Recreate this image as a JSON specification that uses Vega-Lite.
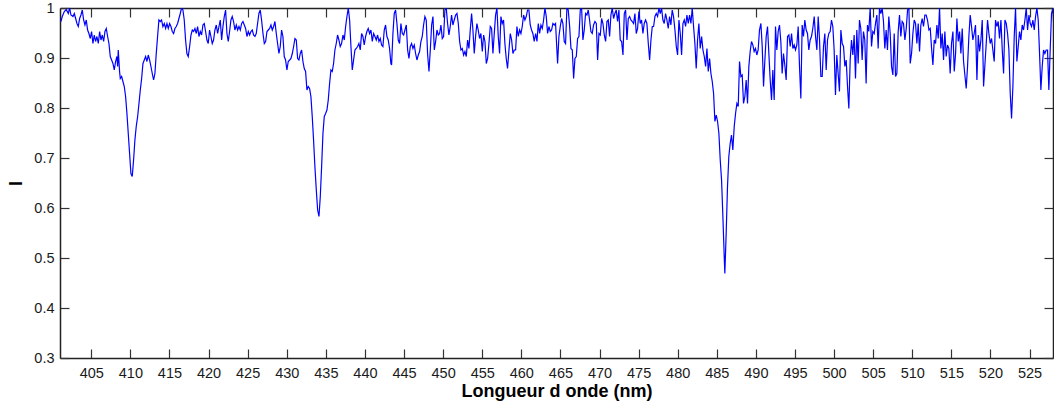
{
"$schema": "https://vega.github.io/schema/vega-lite/v6.json",
"width": 993, "height": 350,
"autosize": {"type": "none"},
"padding": {"left": 60, "top": 8, "right": 1, "bottom": 47},
"background": "white",
"config": {"view": {"stroke": null}, "font": "Liberation Sans"},
"data": {"values": [
{"nm":401.12,"I":0.973},{"nm":401.29,"I":0.983},{"nm":401.55,"I":0.993},{"nm":401.80,"I":0.997},{"nm":402.06,"I":0.989},{"nm":402.23,"I":1.000},{"nm":402.40,"I":0.986},{"nm":402.66,"I":0.983},{"nm":402.83,"I":0.989},{"nm":403.00,"I":0.979},{"nm":403.17,"I":0.969},{"nm":403.34,"I":0.963},{"nm":403.51,"I":0.979},{"nm":403.68,"I":0.986},{"nm":403.85,"I":0.996},{"nm":404.02,"I":0.976},{"nm":404.19,"I":0.966},{"nm":404.36,"I":0.976},{"nm":404.53,"I":0.956},{"nm":404.70,"I":0.949},{"nm":404.87,"I":0.939},{"nm":405.04,"I":0.953},{"nm":405.21,"I":0.929},{"nm":405.38,"I":0.946},{"nm":405.55,"I":0.933},{"nm":405.72,"I":0.943},{"nm":405.90,"I":0.929},{"nm":406.07,"I":0.953},{"nm":406.24,"I":0.936},{"nm":406.41,"I":0.946},{"nm":406.58,"I":0.933},{"nm":406.75,"I":0.953},{"nm":406.92,"I":0.959},{"nm":407.09,"I":0.943},{"nm":407.26,"I":0.929},{"nm":407.43,"I":0.903},{"nm":407.60,"I":0.896},{"nm":407.77,"I":0.889},{"nm":407.94,"I":0.876},{"nm":408.11,"I":0.893},{"nm":408.28,"I":0.903},{"nm":408.37,"I":0.883},{"nm":408.45,"I":0.916},{"nm":408.62,"I":0.873},{"nm":408.71,"I":0.859},{"nm":408.88,"I":0.863},{"nm":409.05,"I":0.853},{"nm":409.22,"I":0.843},{"nm":409.39,"I":0.823},{"nm":409.56,"I":0.789},{"nm":409.73,"I":0.749},{"nm":409.90,"I":0.709},{"nm":410.07,"I":0.669},{"nm":410.24,"I":0.663},{"nm":410.41,"I":0.696},{"nm":410.58,"I":0.736},{"nm":410.75,"I":0.763},{"nm":410.93,"I":0.783},{"nm":411.10,"I":0.809},{"nm":411.27,"I":0.836},{"nm":411.44,"I":0.859},{"nm":411.61,"I":0.889},{"nm":411.78,"I":0.896},{"nm":411.95,"I":0.903},{"nm":412.12,"I":0.893},{"nm":412.29,"I":0.906},{"nm":412.46,"I":0.896},{"nm":412.63,"I":0.883},{"nm":412.80,"I":0.869},{"nm":412.97,"I":0.856},{"nm":413.14,"I":0.869},{"nm":413.31,"I":0.909},{"nm":413.48,"I":0.943},{"nm":413.65,"I":0.976},{"nm":413.82,"I":0.973},{"nm":413.99,"I":0.976},{"nm":414.16,"I":0.963},{"nm":414.34,"I":0.969},{"nm":414.51,"I":0.959},{"nm":414.68,"I":0.969},{"nm":414.85,"I":0.959},{"nm":415.02,"I":0.969},{"nm":415.19,"I":0.963},{"nm":415.36,"I":0.953},{"nm":415.53,"I":0.949},{"nm":415.70,"I":0.959},{"nm":415.87,"I":0.963},{"nm":416.04,"I":0.969},{"nm":416.21,"I":0.979},{"nm":416.38,"I":0.989},{"nm":416.55,"I":1.000},{"nm":416.72,"I":0.996},{"nm":416.89,"I":0.976},{"nm":417.06,"I":0.936},{"nm":417.23,"I":0.909},{"nm":417.40,"I":0.903},{"nm":417.58,"I":0.923},{"nm":417.75,"I":0.946},{"nm":417.92,"I":0.956},{"nm":418.09,"I":0.953},{"nm":418.26,"I":0.959},{"nm":418.43,"I":0.949},{"nm":418.60,"I":0.963},{"nm":418.77,"I":0.943},{"nm":418.94,"I":0.953},{"nm":419.11,"I":0.946},{"nm":419.28,"I":0.966},{"nm":419.45,"I":0.969},{"nm":419.62,"I":0.953},{"nm":419.79,"I":0.936},{"nm":419.96,"I":0.929},{"nm":420.13,"I":0.956},{"nm":420.30,"I":0.943},{"nm":420.47,"I":0.929},{"nm":420.64,"I":0.936},{"nm":420.81,"I":0.956},{"nm":420.99,"I":0.966},{"nm":421.16,"I":0.949},{"nm":421.33,"I":0.963},{"nm":421.50,"I":0.976},{"nm":421.67,"I":0.936},{"nm":421.84,"I":0.963},{"nm":422.01,"I":0.983},{"nm":422.18,"I":0.996},
{"nm":422.35,"I":0.949},{"nm":422.52,"I":0.933},{"nm":422.69,"I":0.953},{"nm":422.86,"I":0.976},{"nm":423.03,"I":0.983},{"nm":423.20,"I":0.973},{"nm":423.37,"I":0.956},{"nm":423.55,"I":0.966},{"nm":423.72,"I":0.956},{"nm":423.89,"I":0.963},{"nm":424.06,"I":0.956},{"nm":424.23,"I":0.969},{"nm":424.40,"I":0.973},{"nm":424.57,"I":0.966},{"nm":424.74,"I":0.959},{"nm":424.91,"I":0.943},{"nm":425.08,"I":0.953},{"nm":425.25,"I":0.946},{"nm":425.42,"I":0.953},{"nm":425.59,"I":0.956},{"nm":425.76,"I":0.946},{"nm":425.93,"I":0.943},{"nm":426.10,"I":0.949},{"nm":426.27,"I":0.969},{"nm":426.44,"I":0.989},{"nm":426.61,"I":0.996},{"nm":426.78,"I":0.976},{"nm":426.96,"I":0.949},{"nm":427.13,"I":0.929},{"nm":427.30,"I":0.933},{"nm":427.47,"I":0.953},{"nm":427.64,"I":0.956},{"nm":427.81,"I":0.959},{"nm":427.98,"I":0.966},{"nm":428.15,"I":0.956},{"nm":428.32,"I":0.963},{"nm":428.49,"I":0.973},{"nm":428.66,"I":0.949},{"nm":428.83,"I":0.929},{"nm":429.00,"I":0.909},{"nm":429.17,"I":0.923},{"nm":429.34,"I":0.956},{"nm":429.51,"I":0.943},{"nm":429.68,"I":0.903},{"nm":429.85,"I":0.896},{"nm":430.02,"I":0.876},{"nm":430.19,"I":0.893},{"nm":430.37,"I":0.896},{"nm":430.54,"I":0.899},{"nm":430.71,"I":0.909},{"nm":430.88,"I":0.923},{"nm":431.05,"I":0.939},{"nm":431.22,"I":0.936},{"nm":431.39,"I":0.899},{"nm":431.56,"I":0.896},{"nm":431.73,"I":0.909},{"nm":431.90,"I":0.916},{"nm":432.07,"I":0.893},{"nm":432.24,"I":0.879},{"nm":432.41,"I":0.873},{"nm":432.58,"I":0.836},{"nm":432.75,"I":0.843},{"nm":432.92,"I":0.839},{"nm":433.09,"I":0.823},{"nm":433.26,"I":0.783},{"nm":433.43,"I":0.736},{"nm":433.60,"I":0.683},{"nm":433.78,"I":0.636},{"nm":433.95,"I":0.596},{"nm":434.12,"I":0.583},{"nm":434.29,"I":0.623},{"nm":434.46,"I":0.683},{"nm":434.63,"I":0.749},{"nm":434.80,"I":0.783},{"nm":434.97,"I":0.789},{"nm":435.14,"I":0.796},{"nm":435.31,"I":0.816},{"nm":435.48,"I":0.849},{"nm":435.65,"I":0.876},{"nm":435.82,"I":0.873},{"nm":435.99,"I":0.889},{"nm":436.16,"I":0.916},{"nm":436.33,"I":0.929},{"nm":436.50,"I":0.946},{"nm":436.67,"I":0.936},{"nm":436.84,"I":0.923},{"nm":437.01,"I":0.929},{"nm":437.19,"I":0.946},{"nm":437.36,"I":0.936},{"nm":437.53,"I":0.963},{"nm":437.70,"I":0.983},{"nm":437.87,"I":1.000},{"nm":438.04,"I":0.976},{"nm":438.21,"I":0.923},{"nm":438.38,"I":0.876},{"nm":438.55,"I":0.896},{"nm":438.72,"I":0.916},{"nm":438.89,"I":0.919},{"nm":439.06,"I":0.923},{"nm":439.23,"I":0.929},{"nm":439.40,"I":0.916},{"nm":439.57,"I":0.949},{"nm":439.74,"I":0.943},{"nm":439.91,"I":0.926},{"nm":440.08,"I":0.943},{"nm":440.25,"I":0.953},{"nm":440.42,"I":0.959},{"nm":440.60,"I":0.949},{"nm":440.77,"I":0.956},{"nm":440.94,"I":0.933},{"nm":441.11,"I":0.949},{"nm":441.28,"I":0.943},{"nm":441.45,"I":0.936},{"nm":441.62,"I":0.946},{"nm":441.79,"I":0.933},{"nm":441.96,"I":0.939},{"nm":442.13,"I":0.926},{"nm":442.30,"I":0.923},{"nm":442.47,"I":0.956},{"nm":442.64,"I":0.966},{"nm":442.81,"I":0.943},{"nm":442.98,"I":0.936},{"nm":443.15,"I":0.919},{"nm":443.32,"I":0.889},
{"nm":443.41,"I":0.886},{"nm":443.58,"I":0.949},{"nm":443.75,"I":0.989},{"nm":443.92,"I":0.996},{"nm":444.09,"I":0.969},{"nm":444.26,"I":0.936},{"nm":444.43,"I":0.929},{"nm":444.60,"I":0.969},{"nm":444.78,"I":0.949},{"nm":444.95,"I":0.946},{"nm":445.12,"I":0.956},{"nm":445.29,"I":0.966},{"nm":445.46,"I":0.916},{"nm":445.63,"I":0.899},{"nm":445.80,"I":0.923},{"nm":445.97,"I":0.929},{"nm":446.14,"I":0.919},{"nm":446.31,"I":0.926},{"nm":446.48,"I":0.909},{"nm":446.65,"I":0.896},{"nm":446.82,"I":0.906},{"nm":446.99,"I":0.913},{"nm":447.16,"I":0.933},{"nm":447.33,"I":0.943},{"nm":447.50,"I":0.966},{"nm":447.67,"I":0.983},{"nm":447.84,"I":0.976},{"nm":448.01,"I":0.909},{"nm":448.19,"I":0.873},{"nm":448.36,"I":0.916},{"nm":448.53,"I":0.966},{"nm":448.70,"I":0.983},{"nm":448.87,"I":0.916},{"nm":449.04,"I":0.933},{"nm":449.21,"I":0.956},{"nm":449.38,"I":0.946},{"nm":449.55,"I":0.949},{"nm":449.72,"I":0.966},{"nm":449.89,"I":0.939},{"nm":450.06,"I":0.943},{"nm":450.23,"I":0.996},{"nm":450.40,"I":1.000},{"nm":450.57,"I":0.969},{"nm":450.74,"I":0.946},{"nm":450.91,"I":0.963},{"nm":451.08,"I":0.986},{"nm":451.25,"I":0.966},{"nm":451.42,"I":0.976},{"nm":451.60,"I":0.986},{"nm":451.77,"I":0.989},{"nm":451.94,"I":0.969},{"nm":452.11,"I":0.933},{"nm":452.28,"I":0.916},{"nm":452.45,"I":0.919},{"nm":452.62,"I":0.906},{"nm":452.79,"I":0.913},{"nm":452.96,"I":0.903},{"nm":453.13,"I":0.936},{"nm":453.30,"I":0.919},{"nm":453.47,"I":0.956},{"nm":453.64,"I":0.989},{"nm":453.81,"I":0.956},{"nm":453.98,"I":0.909},{"nm":454.15,"I":0.943},{"nm":454.32,"I":0.969},{"nm":454.49,"I":0.956},{"nm":454.66,"I":0.939},{"nm":454.83,"I":0.949},{"nm":455.01,"I":0.913},{"nm":455.18,"I":0.946},{"nm":455.35,"I":0.933},{"nm":455.52,"I":0.889},{"nm":455.69,"I":0.899},{"nm":455.86,"I":0.929},{"nm":456.03,"I":0.963},{"nm":456.20,"I":0.959},{"nm":456.37,"I":0.909},{"nm":456.54,"I":0.949},{"nm":456.71,"I":0.986},{"nm":456.88,"I":1.000},{"nm":457.05,"I":0.943},{"nm":457.22,"I":0.909},{"nm":457.39,"I":0.983},{"nm":457.56,"I":0.969},{"nm":457.73,"I":0.976},{"nm":457.90,"I":0.929},{"nm":458.07,"I":0.899},{"nm":458.24,"I":0.879},{"nm":458.42,"I":0.916},{"nm":458.59,"I":0.949},{"nm":458.76,"I":0.936},{"nm":458.93,"I":0.909},{"nm":459.10,"I":0.916},{"nm":459.27,"I":0.916},{"nm":459.44,"I":0.963},{"nm":459.61,"I":0.943},{"nm":459.78,"I":0.956},{"nm":459.95,"I":0.949},{"nm":460.12,"I":0.963},{"nm":460.29,"I":0.986},{"nm":460.46,"I":0.976},{"nm":460.63,"I":0.983},{"nm":460.80,"I":0.996},{"nm":460.97,"I":0.996},{"nm":461.14,"I":0.966},{"nm":461.31,"I":0.956},{"nm":461.48,"I":0.949},{"nm":461.65,"I":0.933},{"nm":461.83,"I":0.949},{"nm":462.00,"I":0.933},{"nm":462.17,"I":0.969},{"nm":462.34,"I":0.949},{"nm":462.51,"I":0.966},{"nm":462.68,"I":0.959},{"nm":462.85,"I":0.976},{"nm":463.02,"I":1.000},{"nm":463.19,"I":0.983},{"nm":463.36,"I":0.949},{"nm":463.53,"I":0.963},{"nm":463.70,"I":0.953},{"nm":463.87,"I":0.956},{"nm":464.04,"I":0.969},{"nm":464.21,"I":0.966},{"nm":464.38,"I":0.969},
{"nm":464.64,"I":0.889},{"nm":464.81,"I":0.943},{"nm":464.98,"I":0.963},{"nm":465.15,"I":0.979},{"nm":465.32,"I":0.969},{"nm":465.49,"I":0.933},{"nm":465.66,"I":0.929},{"nm":465.83,"I":1.000},{"nm":466.00,"I":0.996},{"nm":466.18,"I":0.963},{"nm":466.35,"I":0.919},{"nm":466.52,"I":0.916},{"nm":466.69,"I":0.859},{"nm":466.86,"I":0.899},{"nm":467.03,"I":0.903},{"nm":467.20,"I":0.939},{"nm":467.37,"I":0.943},{"nm":467.54,"I":0.996},{"nm":467.71,"I":1.000},{"nm":467.88,"I":0.936},{"nm":468.05,"I":0.956},{"nm":468.22,"I":0.989},{"nm":468.39,"I":0.986},{"nm":468.56,"I":0.996},{"nm":468.73,"I":0.976},{"nm":468.90,"I":0.953},{"nm":469.07,"I":0.949},{"nm":469.24,"I":0.966},{"nm":469.42,"I":0.973},{"nm":469.59,"I":0.969},{"nm":469.76,"I":0.896},{"nm":469.93,"I":0.949},{"nm":470.10,"I":0.946},{"nm":470.27,"I":0.979},{"nm":470.44,"I":0.969},{"nm":470.61,"I":0.946},{"nm":470.78,"I":0.933},{"nm":470.95,"I":0.973},{"nm":471.12,"I":0.976},{"nm":471.29,"I":0.943},{"nm":471.46,"I":0.986},{"nm":471.63,"I":1.000},{"nm":471.80,"I":0.979},{"nm":471.97,"I":0.989},{"nm":472.14,"I":0.996},{"nm":472.31,"I":0.973},{"nm":472.48,"I":0.996},{"nm":472.65,"I":0.936},{"nm":472.83,"I":0.933},{"nm":473.00,"I":0.906},{"nm":473.17,"I":0.989},{"nm":473.34,"I":0.996},{"nm":473.51,"I":0.936},{"nm":473.68,"I":0.979},{"nm":473.85,"I":0.983},{"nm":474.02,"I":0.976},{"nm":474.19,"I":0.973},{"nm":474.36,"I":0.969},{"nm":474.53,"I":0.989},{"nm":474.70,"I":0.949},{"nm":474.87,"I":0.959},{"nm":475.04,"I":0.993},{"nm":475.21,"I":0.969},{"nm":475.38,"I":0.976},{"nm":475.55,"I":0.949},{"nm":475.72,"I":0.969},{"nm":475.89,"I":0.976},{"nm":476.06,"I":0.969},{"nm":476.24,"I":0.929},{"nm":476.41,"I":0.896},{"nm":476.58,"I":0.936},{"nm":476.75,"I":0.963},{"nm":476.92,"I":0.963},{"nm":477.09,"I":0.983},{"nm":477.26,"I":0.989},{"nm":477.43,"I":0.983},{"nm":477.60,"I":1.000},{"nm":477.77,"I":0.989},{"nm":477.94,"I":1.000},{"nm":478.11,"I":0.976},{"nm":478.28,"I":0.969},{"nm":478.45,"I":0.989},{"nm":478.62,"I":0.976},{"nm":478.79,"I":0.959},{"nm":478.96,"I":0.983},{"nm":479.13,"I":0.966},{"nm":479.30,"I":0.996},{"nm":479.47,"I":0.983},{"nm":479.65,"I":0.956},{"nm":479.82,"I":0.923},{"nm":479.99,"I":0.906},{"nm":480.16,"I":0.976},{"nm":480.33,"I":0.949},{"nm":480.50,"I":0.906},{"nm":480.67,"I":0.969},{"nm":480.84,"I":0.976},{"nm":481.01,"I":0.963},{"nm":481.18,"I":0.986},{"nm":481.35,"I":0.969},{"nm":481.52,"I":0.986},{"nm":481.69,"I":0.969},{"nm":481.86,"I":1.000},{"nm":482.03,"I":0.963},{"nm":482.20,"I":0.929},{"nm":482.37,"I":0.879},{"nm":482.54,"I":0.936},{"nm":482.71,"I":0.969},{"nm":482.88,"I":0.919},{"nm":483.06,"I":0.943},{"nm":483.23,"I":0.916},{"nm":483.40,"I":0.903},{"nm":483.57,"I":0.883},{"nm":483.74,"I":0.919},{"nm":483.91,"I":0.873},{"nm":484.08,"I":0.899},{"nm":484.25,"I":0.869},{"nm":484.42,"I":0.853},{"nm":484.59,"I":0.829},{"nm":484.76,"I":0.773},{"nm":484.93,"I":0.786},{"nm":485.10,"I":0.773},{"nm":485.27,"I":0.749},{"nm":485.44,"I":0.696},{"nm":485.61,"I":0.656},{"nm":485.78,"I":0.583},{"nm":485.95,"I":0.503},
{"nm":486.03,"I":0.469},{"nm":486.20,"I":0.549},{"nm":486.37,"I":0.643},{"nm":486.54,"I":0.703},{"nm":486.71,"I":0.729},{"nm":486.88,"I":0.746},{"nm":487.05,"I":0.716},{"nm":487.23,"I":0.763},{"nm":487.40,"I":0.789},{"nm":487.57,"I":0.809},{"nm":487.74,"I":0.803},{"nm":487.91,"I":0.893},{"nm":488.08,"I":0.863},{"nm":488.25,"I":0.866},{"nm":488.42,"I":0.809},{"nm":488.59,"I":0.823},{"nm":488.76,"I":0.856},{"nm":488.93,"I":0.809},{"nm":489.10,"I":0.883},{"nm":489.27,"I":0.913},{"nm":489.44,"I":0.933},{"nm":489.61,"I":0.926},{"nm":489.78,"I":0.913},{"nm":489.95,"I":0.919},{"nm":490.12,"I":0.906},{"nm":490.29,"I":0.916},{"nm":490.46,"I":0.956},{"nm":490.64,"I":0.969},{"nm":490.81,"I":0.923},{"nm":490.98,"I":0.843},{"nm":491.15,"I":0.896},{"nm":491.32,"I":0.943},{"nm":491.49,"I":0.963},{"nm":491.66,"I":0.909},{"nm":491.83,"I":0.856},{"nm":492.00,"I":0.816},{"nm":492.17,"I":0.876},{"nm":492.34,"I":0.816},{"nm":492.51,"I":0.963},{"nm":492.68,"I":0.916},{"nm":492.85,"I":0.953},{"nm":493.02,"I":0.966},{"nm":493.19,"I":0.933},{"nm":493.36,"I":0.869},{"nm":493.53,"I":0.909},{"nm":493.70,"I":0.886},{"nm":493.87,"I":0.856},{"nm":494.05,"I":0.943},{"nm":494.22,"I":0.946},{"nm":494.39,"I":0.923},{"nm":494.56,"I":0.949},{"nm":494.73,"I":0.919},{"nm":494.90,"I":0.926},{"nm":495.07,"I":0.916},{"nm":495.24,"I":0.926},{"nm":495.41,"I":0.963},{"nm":495.58,"I":0.883},{"nm":495.75,"I":0.819},{"nm":495.92,"I":0.966},{"nm":496.09,"I":0.943},{"nm":496.26,"I":0.976},{"nm":496.43,"I":0.956},{"nm":496.60,"I":0.949},{"nm":496.77,"I":0.916},{"nm":496.94,"I":0.936},{"nm":497.11,"I":0.943},{"nm":497.28,"I":0.959},{"nm":497.46,"I":0.983},{"nm":497.63,"I":0.943},{"nm":497.80,"I":0.916},{"nm":497.97,"I":0.983},{"nm":498.14,"I":0.936},{"nm":498.31,"I":0.863},{"nm":498.48,"I":0.863},{"nm":498.65,"I":0.923},{"nm":498.82,"I":0.949},{"nm":498.99,"I":0.876},{"nm":499.16,"I":0.936},{"nm":499.33,"I":0.949},{"nm":499.50,"I":0.953},{"nm":499.67,"I":0.976},{"nm":499.84,"I":0.963},{"nm":500.01,"I":0.916},{"nm":500.18,"I":0.826},{"nm":500.35,"I":0.906},{"nm":500.52,"I":0.869},{"nm":500.69,"I":0.833},{"nm":500.87,"I":0.956},{"nm":501.04,"I":0.929},{"nm":501.21,"I":0.923},{"nm":501.38,"I":0.883},{"nm":501.55,"I":0.896},{"nm":501.72,"I":0.843},{"nm":501.89,"I":0.799},{"nm":502.06,"I":0.896},{"nm":502.23,"I":0.936},{"nm":502.40,"I":0.906},{"nm":502.57,"I":0.946},{"nm":502.74,"I":0.859},{"nm":502.91,"I":0.956},{"nm":503.08,"I":0.889},{"nm":503.25,"I":0.976},{"nm":503.42,"I":0.959},{"nm":503.59,"I":0.896},{"nm":503.76,"I":0.953},{"nm":503.93,"I":0.936},{"nm":504.10,"I":0.849},{"nm":504.27,"I":0.966},{"nm":504.44,"I":0.953},{"nm":504.62,"I":1.000},{"nm":504.79,"I":0.923},{"nm":504.96,"I":0.953},{"nm":505.13,"I":0.949},{"nm":505.30,"I":0.969},{"nm":505.47,"I":0.986},{"nm":505.64,"I":0.919},{"nm":505.81,"I":1.000},{"nm":505.98,"I":0.989},{"nm":506.15,"I":1.000},{"nm":506.32,"I":0.973},{"nm":506.49,"I":0.919},{"nm":506.66,"I":0.956},{"nm":506.83,"I":0.916},{"nm":507.00,"I":0.983},
{"nm":507.18,"I":0.949},{"nm":507.35,"I":0.883},{"nm":507.52,"I":0.866},{"nm":507.69,"I":0.949},{"nm":507.86,"I":0.863},{"nm":508.03,"I":0.869},{"nm":508.20,"I":0.953},{"nm":508.37,"I":0.986},{"nm":508.54,"I":0.943},{"nm":508.71,"I":0.973},{"nm":508.88,"I":0.969},{"nm":509.06,"I":0.936},{"nm":509.23,"I":0.959},{"nm":509.40,"I":0.996},{"nm":509.57,"I":1.000},{"nm":509.74,"I":0.889},{"nm":509.91,"I":0.909},{"nm":510.08,"I":0.949},{"nm":510.25,"I":0.976},{"nm":510.42,"I":0.969},{"nm":510.59,"I":0.929},{"nm":510.76,"I":0.969},{"nm":510.93,"I":0.913},{"nm":511.10,"I":0.966},{"nm":511.27,"I":0.979},{"nm":511.44,"I":0.963},{"nm":511.61,"I":0.986},{"nm":511.78,"I":0.986},{"nm":511.95,"I":0.976},{"nm":512.13,"I":0.956},{"nm":512.30,"I":0.959},{"nm":512.47,"I":0.919},{"nm":512.64,"I":0.886},{"nm":512.81,"I":0.936},{"nm":512.98,"I":0.929},{"nm":513.15,"I":0.966},{"nm":513.32,"I":0.939},{"nm":513.49,"I":1.000},{"nm":513.66,"I":0.919},{"nm":513.83,"I":0.949},{"nm":514.00,"I":0.896},{"nm":514.17,"I":0.953},{"nm":514.34,"I":0.903},{"nm":514.51,"I":0.926},{"nm":514.68,"I":0.919},{"nm":514.85,"I":0.869},{"nm":515.02,"I":0.929},{"nm":515.20,"I":0.953},{"nm":515.37,"I":0.873},{"nm":515.54,"I":0.909},{"nm":515.71,"I":0.979},{"nm":515.88,"I":0.933},{"nm":516.05,"I":0.953},{"nm":516.22,"I":0.909},{"nm":516.39,"I":0.959},{"nm":516.56,"I":0.893},{"nm":516.73,"I":0.866},{"nm":516.90,"I":0.839},{"nm":517.07,"I":0.883},{"nm":517.24,"I":0.943},{"nm":517.41,"I":0.986},{"nm":517.58,"I":0.963},{"nm":517.75,"I":0.936},{"nm":517.92,"I":0.949},{"nm":518.09,"I":0.966},{"nm":518.27,"I":0.856},{"nm":518.44,"I":0.946},{"nm":518.61,"I":0.913},{"nm":518.78,"I":0.936},{"nm":518.95,"I":0.976},{"nm":519.12,"I":0.843},{"nm":519.29,"I":0.886},{"nm":519.46,"I":0.929},{"nm":519.63,"I":0.976},{"nm":519.80,"I":0.949},{"nm":519.97,"I":0.929},{"nm":520.14,"I":0.939},{"nm":520.31,"I":0.916},{"nm":520.48,"I":0.893},{"nm":520.65,"I":0.976},{"nm":520.82,"I":0.963},{"nm":520.99,"I":0.973},{"nm":521.16,"I":0.939},{"nm":521.34,"I":0.976},{"nm":521.51,"I":0.916},{"nm":521.68,"I":0.869},{"nm":521.85,"I":0.976},{"nm":522.02,"I":0.969},{"nm":522.19,"I":0.949},{"nm":522.36,"I":0.916},{"nm":522.53,"I":0.829},{"nm":522.70,"I":0.779},{"nm":522.87,"I":0.843},{"nm":523.04,"I":0.943},{"nm":523.21,"I":1.000},{"nm":523.38,"I":0.893},{"nm":523.55,"I":0.923},{"nm":523.72,"I":0.953},{"nm":523.89,"I":0.936},{"nm":524.06,"I":0.966},{"nm":524.23,"I":0.956},{"nm":524.41,"I":0.976},{"nm":524.58,"I":1.000},{"nm":524.75,"I":0.956},{"nm":524.92,"I":0.986},{"nm":525.09,"I":0.969},{"nm":525.26,"I":0.963},{"nm":525.43,"I":0.976},{"nm":525.60,"I":0.956},{"nm":525.77,"I":0.983},{"nm":525.94,"I":1.000},{"nm":526.11,"I":0.976},{"nm":526.28,"I":0.909},{"nm":526.45,"I":0.836},{"nm":526.62,"I":0.883},{"nm":526.79,"I":0.916},{"nm":526.96,"I":0.909},{"nm":527.13,"I":0.916},{"nm":527.30,"I":0.916},{"nm":527.47,"I":0.836},{"nm":527.64,"I":0.916},{"nm":527.81,"I":0.989},{"nm":527.98,"I":1.000},{"nm":528.15,"I":0.949}
]},
"layer": [
 {
  "mark": {"type": "line", "color": "#0000ff", "strokeWidth": 1.2, "clip": true},
  "encoding": {
   "x": {"field": "nm", "type": "quantitative",
         "scale": {"domain": [401, 528], "nice": false, "zero": false},
         "axis": {"orient": "bottom", "values": [405,410,415,420,425,430,435,440,445,450,455,460,465,470,475,480,485,490,495,500,505,510,515,520,525],
                  "format": "d", "title": "Longueur d onde (nm)", "grid": false,
                  "tickSize": -9, "tickColor": "#333333", "tickWidth": 1.2,
                  "domainColor": "#222222", "domainWidth": 1.5,
                  "labelPadding": 17, "labelFontSize": 14.5, "labelColor": "#1a1a1a", "labelFont": "Liberation Sans",
                  "labelFlush": false, "labelOverlap": false,
                  "titleFont": "Liberation Sans", "titleFontSize": 18, "titleFontWeight": "bold", "titleColor": "#000000",
                  "titleY": 38.5, "titleBaseline": "alphabetic"}},
   "y": {"field": "I", "type": "quantitative",
         "scale": {"domain": [0.3, 1], "nice": false, "zero": false},
         "axis": {"orient": "left", "values": [0.3,0.4,0.5,0.6,0.7,0.8,0.9,1],
                  "labelExpr": "datum.value > 0.999 ? '1' : format(datum.value, '.1f')",
                  "title": "I", "grid": false,
                  "tickSize": -9, "tickColor": "#333333", "tickWidth": 1.2,
                  "domainColor": "#222222", "domainWidth": 1.5,
                  "labelPadding": 15, "labelFontSize": 14.5, "labelColor": "#1a1a1a", "labelFont": "Liberation Sans",
                  "labelOverlap": false, "labelFlush": false,
                  "titleFont": "Liberation Sans", "titleFontSize": 18, "titleFontWeight": "bold", "titleColor": "#000000",
                  "titleAngle": -90, "titleX": -44, "titleY": 175, "titleAlign": "center", "titleBaseline": "middle"}}
  }
 },
 {
  "mark": {"type": "line", "strokeOpacity": 0, "clip": true},
  "encoding": {
   "x": {"field": "nm", "type": "quantitative",
         "axis": {"orient": "top", "values": [405,410,415,420,425,430,435,440,445,450,455,460,465,470,475,480,485,490,495,500,505,510,515,520,525],
                  "labels": false, "title": null, "grid": false,
                  "tickSize": -9, "tickColor": "#333333", "tickWidth": 1.2,
                  "domainColor": "#222222", "domainWidth": 1.5}},
   "y": {"field": "I", "type": "quantitative",
         "axis": {"orient": "right", "values": [0.3,0.4,0.5,0.6,0.7,0.8,0.9,1],
                  "labels": false, "title": null, "grid": false,
                  "tickSize": -9, "tickColor": "#333333", "tickWidth": 1.2,
                  "domainColor": "#222222", "domainWidth": 1.5}}
  }
 }
],
"resolve": {"axis": {"x": "independent", "y": "independent"}}
}
